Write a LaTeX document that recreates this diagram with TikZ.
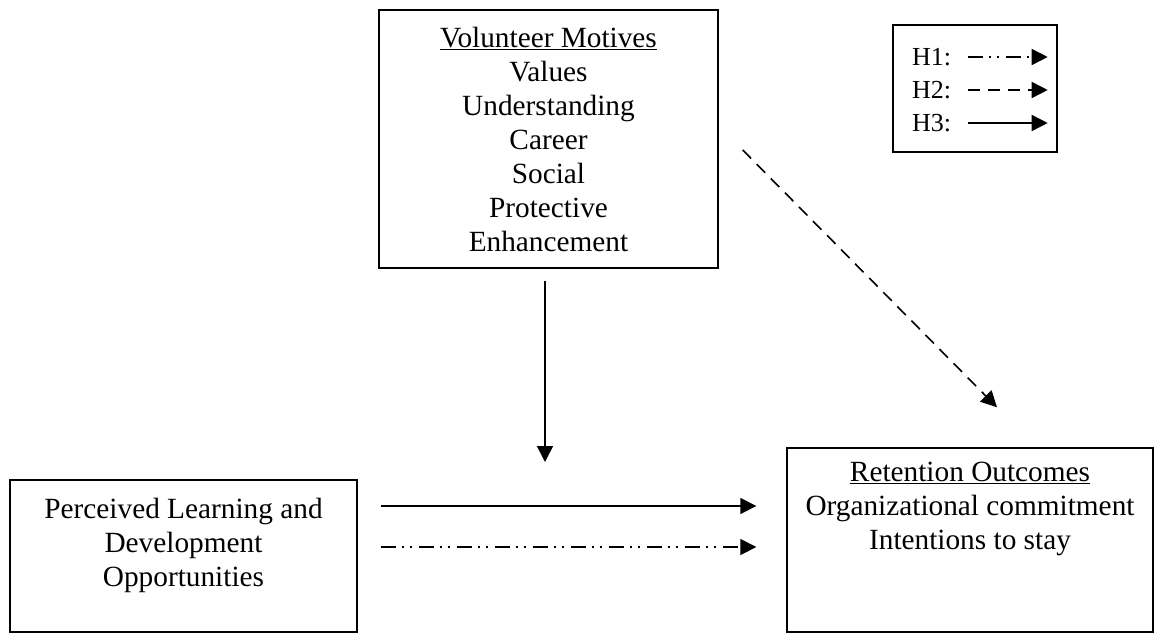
\documentclass[tikz,border=0pt]{standalone}
\usepackage{fontspec}
\setmainfont{Liberation Serif}
\usepackage{tikz}
\usetikzlibrary{calc, arrows.meta, positioning}

\begin{document}
\begin{tikzpicture}[
        x=1pt, y=-1pt,
        box/.style = {draw, rectangle, line width=1.4pt, inner sep=0pt, align=center, font=\fontsize{29.3}{34}\selectfont},
        txt/.style = {align=center, inner sep=0pt, font=\fontsize{29.3}{34}\selectfont},
        keytxt/.style = {inner sep=3pt, font=\fontsize{26}{30}\selectfont},
        arrow/.style = {line width=1.6pt, -{Triangle[length=16pt, width=16pt]}},
        hone/.style = {arrow, dash pattern=on 15pt off 6pt on 2pt off 6pt on 2pt off 7pt},
        htwo/.style = {arrow, dash pattern=on 12pt off 8pt},
        hthree/.style = {arrow}
    ]
        \useasboundingbox (0,0) rectangle (1165,642);

        \node (mot) [box, minimum width=339pt, minimum height=258pt] at (548.5,139)
            {\underline{Volunteer Motives}\\Values\\Understanding\\Career\\Social\\Protective\\Enhancement};
        \node (learn) [box, minimum width=347pt, minimum height=152pt] at (183.5,556) {};
        \node (learntxt) [txt] at ($(learn)+(0,-11)$) {Perceived Learning and\\Development\\Opportunities};
        \node (ret) [box, minimum width=366pt, minimum height=184pt] at (970,540) {};
        \node (rettxt) [txt] at ($(ret.north)+(0,62)$) {\underline{Retention Outcomes}\\Organizational commitment\\Intentions to stay};

        % legend
        \node (key) [box, minimum width=164pt, minimum height=127pt] at (975,88.5) {};
        \foreach \lab/\sty/\yy in {H1/hone/57, H2/htwo/90, H3/hthree/123} {
            \node (k\lab) [keytxt, anchor=west] at (909,\yy) {\lab:};
            \draw [\sty, shorten <=14pt, shorten >=10pt] (k\lab.east) -- (k\lab.east -| key.east);
        }

        \coordinate (mod) at (545,462);
        \coordinate (h2s) at ($(mot.east)+(24,11)$);
        \coordinate (h2e) at ($(ret.north)+(27,-40)$);

        \draw [hthree] ([xshift=-3.5pt, yshift=-12pt]mot.south) -- (mod);
        \draw [hthree, shorten <=23pt, shorten >=30pt] ([yshift=50pt]learn.east) -- ([yshift=50pt]learn.east -| ret.west);
        \draw [hone, shorten <=23pt, shorten >=30pt] ([yshift=9pt]learn.east) -- ([yshift=9pt]learn.east -| ret.west);
        \draw [htwo] (h2s) -- (h2e);

    \end{tikzpicture}
\end{document}
